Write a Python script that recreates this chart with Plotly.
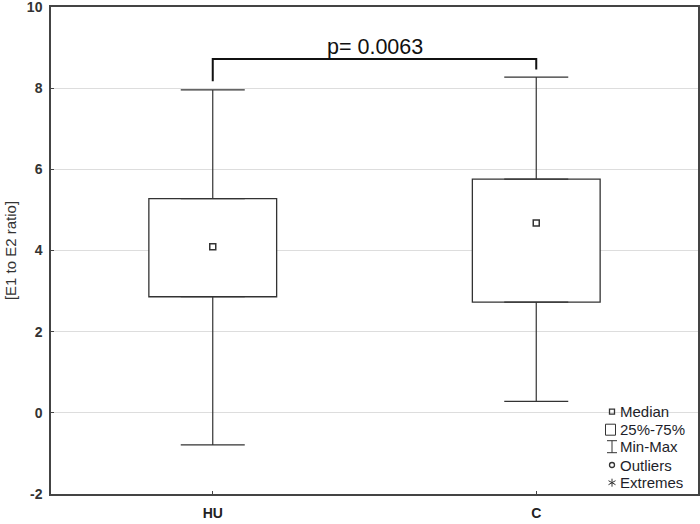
import numpy as np
import plotly.graph_objects as go

# ---- data ----
categories = ["HU", "C"]
q1 = [2.86, 2.73]
median = [4.09, 4.68]
q3 = [5.28, 5.76]
minimum = [-0.79, 0.28]
maximum = [7.96, 8.27]

p_text = "p= 0.0063"
bracket_top = 8.72
bracket_ends = [8.17, 8.46]

legend_labels = ["Median", "25%-75%", "Min-Max", "Outliers", "Extremes"]

y_ticks = [-2, 0, 2, 4, 6, 8, 10]

# ---- styling ----
LINE = "#333333"
FONT = "Liberation Sans, Arial, sans-serif"

q1a, meda, q3a = np.array(q1), np.array(median), np.array(q3)
mina, maxa = np.array(minimum), np.array(maximum)

fig = go.Figure()

# boxes (25%-75%)
fig.add_trace(go.Bar(
    x=categories, y=q3a - q1a, base=q1a, width=0.395,
    marker=dict(color="white", line=dict(color=LINE, width=1.3)),
    hoverinfo="skip", showlegend=False))

# whiskers (upper and lower)
fig.add_trace(go.Scatter(
    x=categories, y=q3a, mode="markers", marker=dict(opacity=0),
    error_y=dict(type="data", symmetric=False, array=maxa - q3a,
                 arrayminus=[0] * len(categories), width=32,
                 thickness=1.2, color=LINE),
    hoverinfo="skip", showlegend=False))
fig.add_trace(go.Scatter(
    x=categories, y=q1a, mode="markers", marker=dict(opacity=0),
    error_y=dict(type="data", symmetric=False, array=[0] * len(categories),
                 arrayminus=q1a - mina, width=32,
                 thickness=1.2, color=LINE),
    hoverinfo="skip", showlegend=False))

# medians
fig.add_trace(go.Scatter(
    x=categories, y=meda, mode="markers",
    marker=dict(symbol="square-open", size=6, color=LINE,
                line=dict(width=1.5, color=LINE)),
    hoverinfo="skip", showlegend=False))

# significance bracket
fig.add_trace(go.Scatter(
    x=[categories[0], categories[0], categories[1], categories[1]],
    y=[bracket_ends[0], bracket_top, bracket_top, bracket_ends[1]],
    mode="lines", line=dict(color="#111111", width=2),
    hoverinfo="skip", showlegend=False))

fig.add_annotation(x=0.5, xref="x", y=bracket_top, yref="y",
                   text=p_text, showarrow=False, yanchor="bottom",
                   yshift=-2,
                   font=dict(family=FONT, size=21.5, color="#111111"))

# ---- custom legend (paper coordinates) ----
L, R, T, B = 51, 698, 7, 494


def px(x):
    return (x - L) / (R - L)


def py(y):
    return (B - y) / (B - T)


leg_y = [411.7, 429.7, 446.7, 465.0, 482.7]
sym_x = 612
for lab, yy in zip(legend_labels, leg_y):
    fig.add_annotation(x=px(618), y=py(yy), xref="paper", yref="paper",
                       text=lab, showarrow=False, xanchor="left",
                       yanchor="middle", xshift=0,
                       font=dict(family=FONT, size=15, color="#1e1e2a"))

shapes = []
# median symbol
shapes.append(dict(type="rect", xref="paper", yref="paper",
                   x0=px(sym_x - 2.5), x1=px(sym_x + 2.5),
                   y0=py(leg_y[0] + 2.5), y1=py(leg_y[0] - 2.5),
                   line=dict(color=LINE, width=1.3)))
# box symbol
shapes.append(dict(type="rect", xref="paper", yref="paper",
                   x0=px(605.5), x1=px(615.5),
                   y0=py(leg_y[1] + 5.5), y1=py(leg_y[1] - 5.5),
                   line=dict(color=LINE, width=1)))
# min-max symbol
yc = leg_y[2]
for (xa, ya, xb, yb) in [(sym_x - 5, yc - 6, sym_x + 5, yc - 6),
                         (sym_x - 5, yc + 6, sym_x + 5, yc + 6),
                         (sym_x, yc - 6, sym_x, yc + 6)]:
    shapes.append(dict(type="line", xref="paper", yref="paper",
                       x0=px(xa), y0=py(ya), x1=px(xb), y1=py(yb),
                       line=dict(color=LINE, width=1)))
# outlier symbol
shapes.append(dict(type="circle", xref="paper", yref="paper",
                   x0=px(sym_x - 2.5), x1=px(sym_x + 2.5),
                   y0=py(leg_y[3] + 2.5), y1=py(leg_y[3] - 2.5),
                   line=dict(color=LINE, width=1.3)))
# extremes symbol (asterisk)
yc = leg_y[4]
for (dx, dy) in [(0, 4), (3.5, 2), (3.5, -2)]:
    shapes.append(dict(type="line", xref="paper", yref="paper",
                       x0=px(sym_x - dx), y0=py(yc - dy),
                       x1=px(sym_x + dx), y1=py(yc + dy),
                       line=dict(color=LINE, width=1)))

fig.update_layout(
    width=700, height=524,
    margin=dict(l=L, r=700 - R, t=T, b=524 - B, autoexpand=False),
    paper_bgcolor="white", plot_bgcolor="white",
    shapes=shapes,
    showlegend=False,
    font=dict(family=FONT, color="#333333"),
    xaxis=dict(range=[-0.5, 1.5], showgrid=False, zeroline=False,
               automargin=False, ticklabeloverflow="allow",
               showline=True, linecolor="#444444", linewidth=1.5, mirror=True,
               ticks="inside", ticklen=3, tickcolor="#444444",
               tickfont=dict(family=FONT, size=14, color="#222222",
                             weight="bold"),
               ticklabelstandoff=5),
    yaxis=dict(range=[-2, 10], tickvals=y_ticks,
               ticktext=[str(v) for v in y_ticks],
               automargin=False, ticklabeloverflow="allow",
               showgrid=True, gridcolor="#dddddd", gridwidth=1,
               zeroline=False,
               showline=True, linecolor="#444444", linewidth=1.5, mirror=True,
               ticks="inside", ticklen=3, tickcolor="#444444",
               tickfont=dict(family=FONT, size=14, color="#333333",
                             weight="bold"),
               ticklabelstandoff=4,
               title=dict(text="[E1 to E2 ratio]", standoff=7,
                          font=dict(family=FONT, size=15, color="#333333"))),
)

fig.write_html("out.html", config={"displayModeBar": False},
               post_script="document.body.style.margin='0';")
